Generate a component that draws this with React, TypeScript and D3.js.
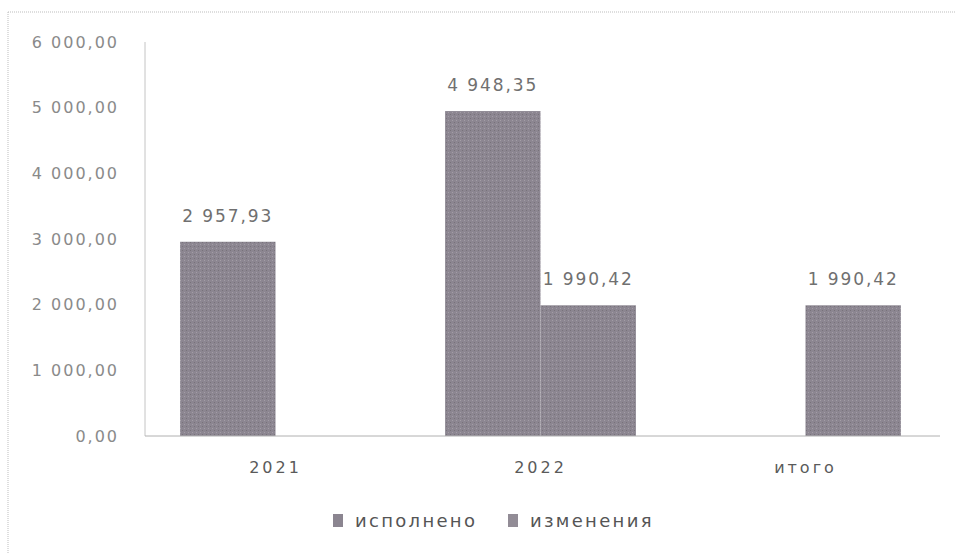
import React from "react";
import * as d3 from "d3";

const categories = ["2021", "2022", "итого"];
const seriesNames = ["исполнено", "изменения"];
const executed: (number | null)[] = [2957.93, 4948.35, null];
const changes: (number | null)[] = [null, 1990.42, 1990.42];
const dataLabels: Record<string, (string | null)[]> = {
  исполнено: ["2 957,93", "4 948,35", null],
  изменения: [null, "1 990,42", "1 990,42"],
};
const yTicks = [0, 1000, 2000, 3000, 4000, 5000, 6000];
const colors = ["#8b8590", "#928c96"];

const W = 955;
const H = 553;
const margin = { left: 145, right: 15, top: 42, bottom: 117 };

function fmtTick(v: number) {
  const s = d3.format(",.2f")(v);
  return s.replace(/,/g, " ").replace(".", ",");
}

export default function App() {
  const x0 = d3
    .scaleBand<string>()
    .domain(categories)
    .range([margin.left - 2, W - margin.right - 2])
    .paddingInner(0.28)
    .paddingOuter(0.14);
  const x1 = d3.scaleBand<string>().domain(seriesNames).range([0, x0.bandwidth()]);
  const y = d3.scaleLinear().domain([0, 6000]).range([H - margin.bottom, margin.top]);
  const values = [executed, changes];
  const font = "'DejaVu Sans', sans-serif";

  return (
    <svg
      width={W}
      height={H}
      style={{ position: "absolute", left: 0, top: 0, background: "#fff" }}
    >
      <defs>
        <pattern id="tex" width="4" height="4" patternUnits="userSpaceOnUse">
          <rect width="4" height="4" fill="#8c8691" />
          <rect width="1" height="1" fill="#a39ea6" />
          <rect x="2" y="2" width="1" height="1" fill="#777279" />
        </pattern>
      </defs>
      {/* outer frame (dotted) */}
      <line x1={8} x2={W} y1={12} y2={12} stroke="#bdbdbd" strokeDasharray="1 1" />
      <line x1={8} x2={8} y1={12} y2={H} stroke="#bdbdbd" strokeDasharray="1 1" />

      {/* y axis */}
      <line
        x1={margin.left}
        x2={margin.left}
        y1={y(6000)}
        y2={y(0)}
        stroke="#c4c4c4"
      />
      {yTicks.map((t) => (
        <text
          key={t}
          x={119}
          y={y(t)}
          dy="0.35em"
          textAnchor="end"
          fontFamily={font}
          fontSize={16}
          letterSpacing={2}
          fill="#8a8a8a"
        >
          {fmtTick(t)}
        </text>
      ))}

      {/* bars */}
      {seriesNames.map((s, si) =>
        categories.map((c, ci) => {
          const v = values[si][ci];
          if (v == null) return null;
          const bx = (x0(c) as number) + (x1(s) as number);
          return (
            <rect
              key={s + c}
              x={bx}
              y={y(v)}
              width={x1.bandwidth()}
              height={y(0) - y(v)}
              fill="url(#tex)"
            />
          );
        })
      )}

      {/* baseline */}
      <line
        x1={margin.left}
        x2={W - margin.right}
        y1={y(0)}
        y2={y(0)}
        stroke="#b0b0b0"
      />

      {/* data labels */}
      {seriesNames.map((s, si) =>
        categories.map((c, ci) => {
          const v = values[si][ci];
          const lab = dataLabels[s][ci];
          if (v == null || lab == null) return null;
          const cx = (x0(c) as number) + (x1(s) as number) + x1.bandwidth() / 2;
          return (
            <text
              key={"l" + s + c}
              x={cx}
              y={y(v) - 20}
              textAnchor="middle"
              fontFamily={font}
              fontSize={17}
              letterSpacing={1.9}
              fill="#707070"
            >
              {lab}
            </text>
          );
        })
      )}

      {/* category labels */}
      {categories.map((c) => (
        <text
          key={"c" + c}
          x={(x0(c) as number) + x0.bandwidth() / 2}
          y={473}
          textAnchor="middle"
          fontFamily={font}
          fontSize={16}
          letterSpacing={3}
          fill="#5a5a5a"
        >
          {c}
        </text>
      ))}

      {/* legend */}
      {seriesNames.map((s, i) => {
        const lx = [333, 508][i];
        return (
          <g key={"lg" + s}>
            <rect x={lx} y={514} width={10} height={13} fill={colors[i]} />
            <text
              x={lx + 22}
              y={527}
              fontFamily={font}
              fontSize={18}
              letterSpacing={2.3}
              fill="#555"
            >
              {s}
            </text>
          </g>
        );
      })}
    </svg>
  );
}
